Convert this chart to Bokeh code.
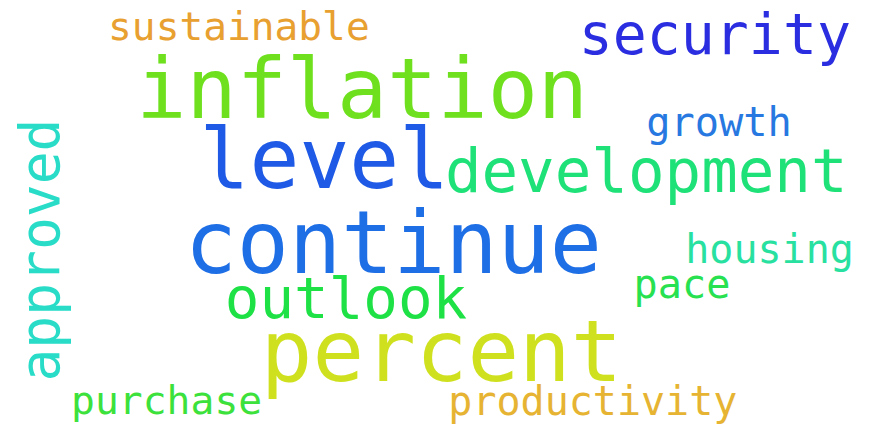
from bokeh.plotting import figure
from bokeh.models import ColumnDataSource, Range1d
from bokeh.core.properties import value
from bokeh.embed import file_html
from bokeh.resources import INLINE
import math

# ---- Word cloud data ----
words = ["continue", "percent", "inflation", "level", "development", "security",
         "outlook", "approved", "sustainable", "growth", "housing", "pace",
         "purchase", "productivity"]
weights = [88.8, 88.0, 85.5, 85.0, 62.4, 58.0, 59.0, 56.0, 40.5, 41.3, 41.0,
           41.2, 40.7, 41.0]
colors = ["#1e6ee6", "#cfe11e", "#6ee01e", "#1e5ae6", "#1ee178", "#2a2ee0",
          "#1ee146", "#28dcc8", "#e8a030", "#2878e1", "#28e1a0", "#28e150",
          "#3ce13c", "#e6b432"]
vertical = [False, False, False, False, False, False, False, True, False,
            False, False, False, False, False]

# ---- Layout: where each word's ink starts and its baseline lies (picture px) ----
ink_x = [188, 266, 138, 203, 453, 590, 227, 53, 106, 658, 698, 645, 68, 455]
base_y = [283, 394, 125, 196, 200, 59, 330, 390, 44, 143, 273, 308, 427, 428]

S, OX, OY = 0.975, 7.0, -3.0     # fit the layout into the plot frame
LSB, BASE = 0.07, 0.355          # font side bearing / renderer baseline offset
MARGIN = 8                       # page margin offset of data coordinates

xs, ys, sizes, angles = [], [], [], []
for w, rx, ry, v in zip(weights, ink_x, base_y, vertical):
    s = w * S
    X = rx * S + OX
    Y = ry * S + OY
    if v:
        ax, ay = X - BASE * s, Y + LSB * s
        angles.append(math.pi / 2)
    else:
        ax, ay = X - LSB * s, Y - BASE * s
        angles.append(0.0)
    xs.append(ax + MARGIN)
    ys.append(ay + MARGIN)
    sizes.append(f"{s:.1f}px")

src = ColumnDataSource(dict(x=xs, y=ys, text=words, color=colors,
                            angle=angles, size=sizes))

p = figure(width=859, height=427, output_backend="svg", toolbar_location=None,
           x_range=Range1d(8, 867), y_range=Range1d(435, 8), min_border=0)
p.axis.visible = False
p.grid.visible = False
p.outline_line_color = None
p.background_fill_color = "white"
p.border_fill_color = "white"

p.text(x="x", y="y", text="text", angle="angle", text_color="color",
       text_font_size="size", text_font=value("DejaVu Sans Mono"),
       text_align="left", text_baseline="alphabetic", source=src)

open("out.html", "w").write(file_html(p, INLINE))
